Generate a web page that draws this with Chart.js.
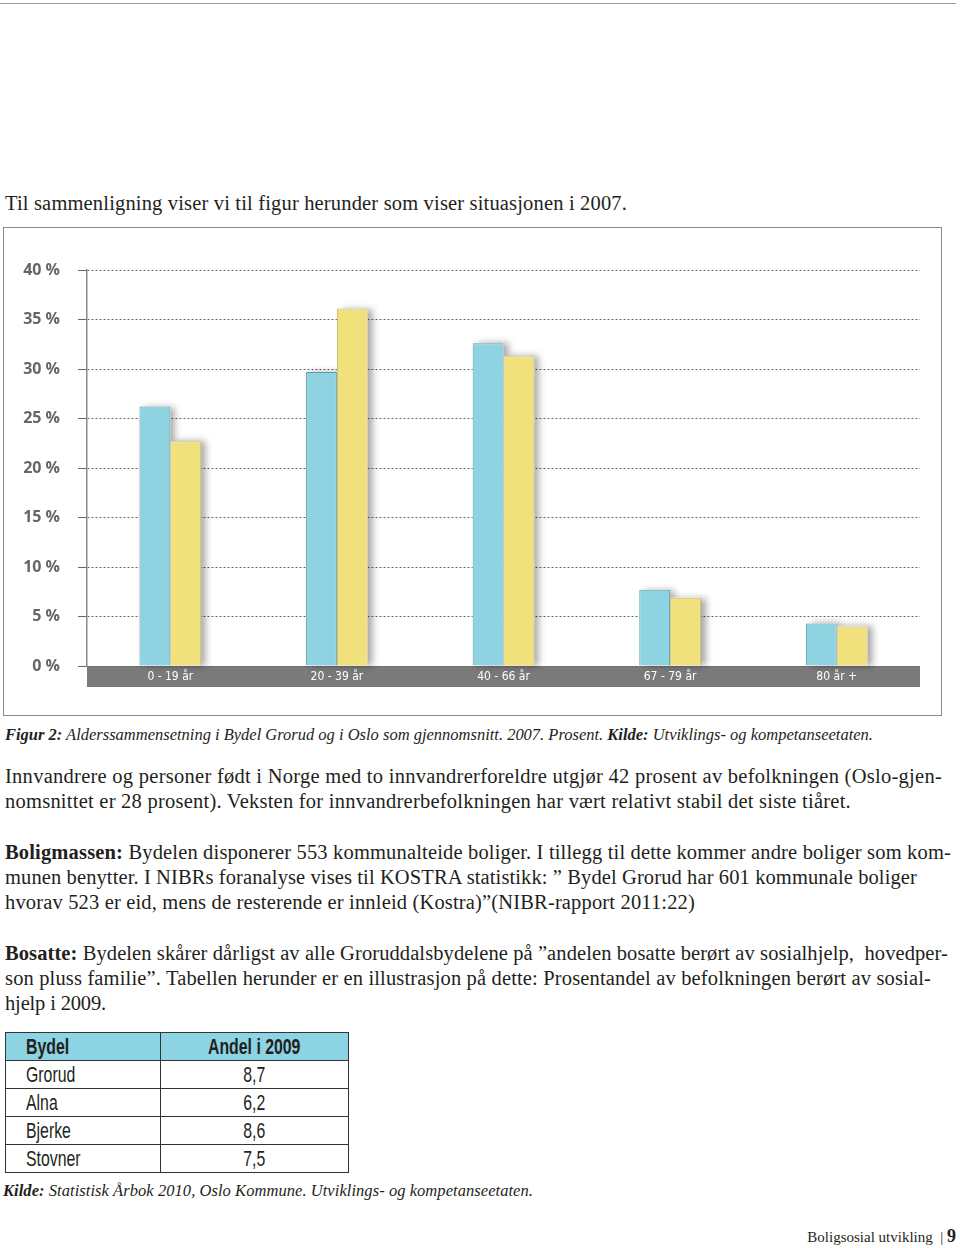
<!DOCTYPE html>
<html>
<head>
<meta charset="utf-8">
<script src="https://cdn.jsdelivr.net/npm/chart.js@4/dist/chart.umd.min.js"></script>
<style>
body { margin: 0; width: 960px; height: 1248px; position: relative; background: #fff; font-family: "Liberation Serif", serif; color: #231f20; }
.abs { position: absolute; }
.rule { left: 0; top: 3px; width: 956px; height: 0; border-top: 1px solid #999; }
.line { white-space: nowrap; line-height: 25px; font-size: 20.5px; }
.cap { white-space: nowrap; line-height: 25px; font-size: 16.5px; font-style: italic; }
#chartBox { left: 3px; top: 227px; width: 939px; height: 489px; border: 1px solid #8a8a8a; box-sizing: border-box; }
table { border-collapse: collapse; font-family: "Liberation Sans", "DejaVu Sans", sans-serif; font-size: 22px; }
td { border: 1px solid #333; height: 27px; padding: 0 0 0 20px; }
td span { display: inline-block; transform: scaleX(0.72); transform-origin: left center; }
td.v { text-align: center; padding: 0; }
td.v span { transform-origin: center center; }
tr.h td { background: #8cd3e3; font-weight: bold; }
</style>
</head>
<body>
<div class="abs rule"></div>
<div class="abs line" style="left:5px; top:191px;"><span class="fit" data-end="627">Til sammenligning viser vi til figur herunder som viser situasjonen i 2007.</span></div>
<div class="abs" id="chartBox"><canvas id="c"></canvas></div>
<div class="abs cap" style="left:5px; top:722px;"><span class="fit" data-end="873"><b>Figur 2:</b> Alderssammensetning i Bydel Grorud og i Oslo som gjennomsnitt. 2007. Prosent. <b>Kilde:</b> Utviklings- og kompetanseetaten.</span></div>
<div class="abs line" style="left:5px; top:764px;"><span class="fit" data-end="942">Innvandrere og personer født i Norge med to innvandrerforeldre utgjør 42 prosent av befolkningen (Oslo-gjen-</span><br><span class="fit" data-end="851">nomsnittet er 28 prosent). Veksten for innvandrerbefolkningen har vært relativt stabil det siste tiåret.</span></div>
<div class="abs line" style="left:5px; top:840px;"><span class="fit" data-end="951"><b>Boligmassen:</b> Bydelen disponerer 553 kommunalteide boliger. I tillegg til dette kommer andre boliger som kom-</span><br><span class="fit" data-end="917">munen benytter. I NIBRs foranalyse vises til KOSTRA statistikk: ” Bydel Grorud har 601 kommunale boliger</span><br><span class="fit" data-end="695">hvorav 523 er eid, mens de resterende er innleid (Kostra)”(NIBR-rapport 2011:22)</span></div>
<div class="abs line" style="left:5px; top:941px;"><span class="fit" data-end="948"><b>Bosatte:</b> Bydelen skårer dårligst av alle Groruddalsbydelene på ”andelen bosatte berørt av sosialhjelp,&nbsp; hovedper-</span><br><span class="fit" data-end="931">son pluss familie”. Tabellen herunder er en illustrasjon på dette: Prosentandel av befolkningen berørt av sosial-</span><br><span class="fit" data-end="106">hjelp i 2009.</span></div>
<table class="abs" id="tbl" style="left:5px; top:1032px; width:344px;"></table>
<div class="abs cap" style="left:3px; top:1178px;"><span class="fit" data-end="533"><b>Kilde:</b> Statistisk Årbok 2010, Oslo Kommune. Utviklings- og kompetanseetaten.</span></div>
<div class="abs" style="right:4px; top:1224px; white-space:nowrap; font-size:15px; line-height:25px;">Boligsosial utvikling &nbsp;| <b style="font-size:18px;">9</b></div>
<script>
var ageGroups = ["0 - 19 år", "20 - 39 år", "40 - 66 år", "67 - 79 år", "80 år +"];
var grorudShare = [26.2, 29.7, 32.6, 7.7, 4.3];
var osloShare = [22.7, 36.1, 31.3, 6.9, 4.0];

var districts = ["Grorud", "Alna", "Bjerke", "Stovner"];
var share2009 = ["8,7", "6,2", "8,6", "7,5"];

// stretch each text line so it ends where the printed line ends
function fitLines() {
    var spans = document.querySelectorAll(".fit");
    for (var i = 0; i < spans.length; i++) {
        var s = spans[i];
        s.style.letterSpacing = "0px";
        var right = s.getBoundingClientRect().right;
        var n = s.textContent.length;
        var ls = (parseFloat(s.getAttribute("data-end")) - right) / n;
        s.style.letterSpacing = ls.toFixed(3) + "px";
    }
}
fitLines();
if (document.fonts && document.fonts.ready) document.fonts.ready.then(fitLines);

// table
var tbl = document.getElementById("tbl");
var html = '<tr class="h"><td style="width:134px;"><span>Bydel</span></td><td class="v"><span>Andel i 2009</span></td></tr>';
for (var i = 0; i < districts.length; i++) {
    html += '<tr><td><span>' + districts[i] + '</span></td><td class="v"><span>' + share2009[i] + '</span></td></tr>';
}
tbl.innerHTML = html;

// soft shadow behind each bar, drawn before the bars themselves
var barShadow = {
    id: "barShadow",
    beforeDatasetsDraw: function (chart) {
        var ctx = chart.ctx;
        ctx.save();
        ctx.shadowColor = "rgba(0,0,0,0.35)";
        ctx.shadowBlur = 7;
        ctx.shadowOffsetX = 5;
        ctx.fillStyle = "#fff";
        chart.data.datasets.forEach(function (ds, di) {
            chart.getDatasetMeta(di).data.forEach(function (bar) {
                var w = bar.width;
                ctx.fillRect(bar.x - w / 2, bar.y, w, bar.base - bar.y);
            });
        });
        ctx.restore();
    }
};

new Chart(document.getElementById("c"), {
    type: "bar",
    data: {
        labels: ageGroups,
        datasets: [
            {
                label: "Bydel Grorud",
                data: grorudShare,
                backgroundColor: "#8dd3e2",
                borderColor: "#5e9cab",
                borderWidth: 1
            },
            {
                label: "Oslo",
                data: osloShare,
                backgroundColor: "#f1e17d",
                borderColor: "#c8b866",
                borderWidth: 1
            }
        ]
    },
    plugins: [barShadow],
    options: {
        responsive: true,
        maintainAspectRatio: false,
        animation: false,
        layout: { padding: { left: 0, right: 21, top: 42, bottom: 28 } },
        datasets: { bar: { categoryPercentage: 0.37, barPercentage: 1 } },
        plugins: {
            legend: { display: false },
            tooltip: { enabled: false }
        },
        scales: {
            x: {
                backgroundColor: "#7a7a7a",
                grid: { display: false, drawTicks: false },
                border: { display: false },
                ticks: {
                    color: "#fff",
                    padding: 4,
                    font: { family: "'Liberation Sans Narrow', 'DejaVu Sans Condensed', sans-serif", size: 12 }
                },
                afterFit: function (s) { s.height = 21; }
            },
            y: {
                min: 0,
                max: 40,
                grid: { color: "#666", lineWidth: 1, tickLength: 9 },
                border: { display: true, color: "#888", width: 1.5, dash: [2, 2] },
                ticks: {
                    stepSize: 5,
                    padding: 18,
                    color: "#666",
                    font: { family: "'Open Sans', sans-serif", size: 16, weight: "bold" },
                    callback: function (v) { return v + " %"; }
                },
                afterFit: function (s) { s.width = 83; }
            }
        }
    }
});
</script>
</body>
</html>
